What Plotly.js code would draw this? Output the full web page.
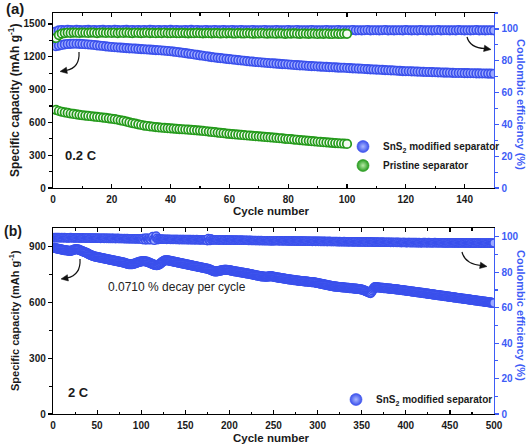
<!DOCTYPE html>
<html>
<head>
<meta charset="utf-8">
<script src="https://cdn.plot.ly/plotly-3.0.1.min.js"></script>
<style>html,body{margin:0;padding:0;background:#fff;}#chart{width:530px;height:446px;}</style>
</head>
<body>
<div id="chart"></div>
<script>
// ---------- DATA ----------
// (a) 0.2 C, cycles 1..150 (SnS2) and 1..100 (pristine)
const capSnS2_a = [
1296,1302,1308,1313,1316,1318,1319,1319,1318,1316,
1314,1312,1310,1307,1304,1301,1298,1295,1292,1289,
1287,1285,1283,1281,1279,1277,1276,1274,1272,1270,
1268,1266,1265,1263,1261,1259,1257,1255,1253,1250,
1247,1244,1240,1237,1233,1229,1225,1221,1217,1213,
1209,1205,1201,1197,1193,1190,1187,1184,1181,1178,
1175,1172,1169,1166,1163,1160,1157,1155,1152,1150,
1147,1145,1143,1141,1139,1137,1135,1133,1131,1129,
1127,1125,1123,1121,1120,1118,1116,1114,1113,1111,
1110,1108,1107,1105,1104,1103,1101,1100,1099,1097,
1096,1094,1093,1091,1090,1088,1087,1085,1084,1082,
1081,1080,1078,1077,1075,1074,1072,1071,1069,1068,
1067,1066,1065,1064,1063,1062,1061,1060,1059,1058,
1057,1056,1055,1055,1054,1053,1052,1052,1051,1050,
1050,1049,1049,1048,1048,1047,1047,1046,1046,1045];
const ceSnS2_a = [
98.4,99.1,99.3,99.2,99.4,99.3,99.2,99.4,99.3,99.2,
99.3,99.4,99.2,99.3,99.1,99.3,99.4,99.2,99.3,99.2,
99.4,99.3,99.2,99.3,99.4,99.2,99.3,99.1,99.3,99.2,
99.3,99.2,99.4,99.3,99.2,99.3,99.1,99.3,99.2,99.4,
99.2,99.3,99.2,99.1,99.3,99.2,99.4,99.2,99.3,99.1,
99.2,99.3,99.1,99.2,99.3,99.2,99.1,99.3,99.2,99.2,
99.3,99.1,99.2,99.3,99.2,99.1,99.2,99.3,99.1,99.2,
99.2,99.3,99.1,99.2,99.1,99.3,99.2,99.1,99.2,99.3,
99.1,99.2,99.3,99.1,99.2,99.2,99.1,99.3,99.2,99.1,
99.2,99.1,99.3,99.2,99.1,99.2,99.3,99.1,99.2,99.1,
99.2,99.3,99.1,99.2,99.1,99.2,99.3,99.1,99.2,99.2,
99.1,99.2,99.3,99.1,99.2,99.1,99.2,99.2,99.1,99.3,
99.2,99.1,99.2,99.1,99.3,99.2,99.1,99.2,99.1,99.2,
99.3,99.1,99.2,99.2,99.1,99.2,99.1,99.3,99.2,99.1,
99.2,99.1,99.2,99.3,99.1,99.2,99.1,99.2,99.2,99.1];
const capPristine_a = [
714,704,697,691,686,681,677,673,669,665,
662,659,656,653,650,647,644,641,637,633,
629,624,619,613,607,600,594,588,582,576,
571,567,563,560,557,554,551,549,547,545,
543,541,539,537,535,533,531,529,527,525,
522,519,516,513,510,507,504,501,498,495,
493,490,488,485,483,480,478,476,474,472,
469,467,465,462,460,458,455,453,450,448,
446,443,441,438,436,433,431,428,426,423,
421,419,417,415,413,411,409,407,405,403];
const cePristine_a = [
94.3,96.1,97.0,97.4,97.6,97.5,97.7,97.6,97.5,97.7,
97.6,97.5,97.7,97.6,97.4,97.6,97.7,97.5,97.6,97.5,
97.6,97.4,97.6,97.5,97.7,97.5,97.4,97.6,97.5,97.4,
97.5,97.6,97.4,97.5,97.3,97.5,97.4,97.6,97.4,97.3,
97.5,97.4,97.3,97.5,97.4,97.2,97.4,97.3,97.5,97.3,
97.2,97.4,97.3,97.2,97.4,97.3,97.1,97.3,97.2,97.4,
97.2,97.1,97.3,97.2,97.1,97.3,97.2,97.0,97.2,97.1,
97.3,97.1,97.0,97.2,97.1,97.0,97.2,97.1,96.9,97.1,
97.0,97.2,97.0,96.9,97.1,97.0,96.9,97.1,97.0,96.8,
97.0,96.9,97.1,96.9,96.8,97.0,96.9,96.8,97.0,96.9];

// (b) 2 C, cycles 1..500 (SnS2)
const capSnS2_b = [
895,893,891,890,889,888,887,886,885,884,
883,882,881,880,880,879,878,878,877,877,
878,880,882,884,885,886,886,885,884,882,
880,878,876,874,872,870,868,866,864,861,
858,856,854,852,850,848,847,846,845,844,
843,842,841,840,839,838,837,836,835,834,
833,832,831,830,829,828,827,826,825,824,
823,822,821,820,819,818,817,816,815,814,
813,811,809,808,807,806,806,805,805,806,
807,808,809,811,813,815,816,818,819,820,
821,822,822,821,820,819,818,816,814,812,
810,808,806,804,802,801,800,800,801,803,
806,810,814,818,821,824,826,827,827,826,
825,824,823,822,821,820,819,818,817,816,
815,814,813,812,811,810,809,808,807,806,
805,804,803,802,801,800,799,798,797,796,
795,794,793,792,791,790,789,788,787,786,
785,784,783,782,781,780,778,776,774,772,
770,768,767,766,766,767,768,769,770,771,
772,773,774,775,775,775,775,774,774,773,
772,771,770,769,768,767,766,766,765,764,
763,762,761,761,760,759,758,757,756,756,
755,754,753,752,751,750,749,748,747,746,
745,744,743,742,741,740,740,739,739,738,
738,738,738,739,740,740,741,740,739,738,
737,736,735,734,733,733,732,731,730,730,
729,728,727,727,726,725,724,724,723,722,
722,721,720,720,719,718,718,717,716,716,
715,715,714,714,713,713,712,712,711,711,
710,710,709,709,708,708,707,706,705,704,
703,702,701,700,699,698,697,696,695,694,
693,692,691,690,689,688,687,686,686,685,
685,684,684,683,683,682,682,681,681,680,
680,679,679,678,678,677,677,676,676,675,
675,674,674,673,673,672,672,671,670,669,
668,666,664,662,660,658,656,654,652,650,
656,664,672,678,682,682,681,681,680,680,
679,679,678,678,677,677,676,676,675,675,
674,674,673,673,672,672,671,671,670,670,
669,668,668,667,667,666,665,665,664,663,
663,662,661,661,660,659,659,658,657,657,
656,655,655,654,653,653,652,651,651,650,
649,649,648,647,647,646,645,645,644,643,
643,642,641,641,640,639,639,638,637,637,
636,635,635,634,633,633,632,631,631,630,
629,629,628,627,627,626,625,625,624,623,
623,622,621,621,620,619,619,618,617,617,
616,615,615,614,613,613,612,611,611,610,
609,609,608,607,607,606,605,605,604,603,
603,602,601,601,600,599,599,598,597,597];
const ceSnS2_b = [
99.6,99.5,99.7,99.5,99.6,99.4,99.6,99.5,99.5,99.6,
99.4,99.5,99.6,99.4,99.5,99.5,99.3,99.5,99.4,99.6,
99.5,99.4,99.4,99.5,99.3,99.5,99.4,99.4,99.5,99.3,
99.4,99.3,99.5,99.4,99.3,99.4,99.2,99.4,99.3,99.4,
99.3,99.2,99.4,99.3,99.3,99.2,99.4,99.3,99.2,99.3,
99.2,99.3,99.2,99.1,99.3,99.2,99.2,99.1,99.3,99.2,
99.1,99.2,99.1,99.2,99.0,99.2,99.1,99.1,99.2,99.0,
99.1,99.0,99.2,99.1,99.0,99.1,99.0,99.1,99.0,99.0,
99.1,98.9,99.0,99.1,98.9,99.0,98.9,99.0,98.9,99.0,
98.9,98.9,99.0,98.8,98.9,99.0,98.8,98.9,98.9,98.8,
98.9,98.4,99.2,98.9,98.2,99.4,98.8,98.3,99.3,98.7,
98.3,99.5,100.2,98.6,98.0,99.9,100.5,99.2,98.4,98.8,
98.6,98.7,98.8,98.7,98.6,98.7,98.6,98.7,98.5,98.6,
98.7,98.6,98.5,98.6,98.5,98.6,98.5,98.6,98.5,98.5,
98.5,98.6,98.4,98.5,98.6,98.4,98.5,98.5,98.4,98.6,
98.4,98.5,98.4,98.5,98.3,98.5,98.4,98.4,98.5,98.3,
98.4,98.3,98.5,98.4,98.3,98.4,98.2,98.4,98.3,98.4,
98.3,98.2,98.4,98.3,97.8,99.1,98.1,97.9,98.9,98.3,
98.3,98.2,98.3,98.2,98.4,98.2,98.3,98.1,98.3,98.2,
98.2,98.3,98.1,98.2,98.3,98.1,98.2,98.2,98.1,98.3,
98.1,98.2,98.1,98.2,98.0,98.2,98.1,98.1,98.2,98.0,
98.1,98.0,98.2,98.1,98.0,98.1,98.0,98.1,98.0,98.0,
98.1,97.9,98.0,98.1,97.9,98.0,97.9,98.0,97.9,98.0,
97.9,97.9,98.0,97.8,97.9,98.0,97.8,97.9,97.9,97.8,
97.9,97.8,97.9,97.8,97.8,97.9,97.7,97.8,97.9,97.7,
97.9,97.8,97.9,97.8,97.9,97.8,97.7,97.9,97.8,97.8,
97.7,97.8,97.9,97.7,97.8,97.7,97.8,97.7,97.6,97.8,
97.7,97.6,97.8,97.7,97.6,97.7,97.6,97.7,97.6,97.7,
97.6,97.7,97.5,97.6,97.7,97.5,97.6,97.6,97.5,97.6,
97.5,97.6,97.5,97.4,97.6,97.5,97.5,97.4,97.6,97.5,
97.4,97.5,97.4,97.5,97.3,97.5,97.4,97.4,97.5,97.3,
97.4,97.3,97.5,97.4,97.3,97.4,97.3,97.4,97.3,97.4,
97.3,97.4,97.2,97.3,97.4,97.2,97.3,97.3,97.2,97.4,
97.2,97.3,97.2,97.3,97.1,97.3,97.2,97.2,97.3,97.1,
97.2,97.1,97.3,97.2,97.1,97.2,97.1,97.2,97.1,97.2,
97.1,97.2,97.0,97.1,97.2,97.0,97.1,97.1,97.0,97.2,
97.0,97.1,97.0,97.1,96.9,97.1,97.0,97.0,97.1,96.9,
97.0,96.9,97.1,97.0,96.9,97.0,96.9,97.0,96.9,97.0,
96.9,97.0,96.8,96.9,97.0,96.8,96.9,96.9,96.8,97.0,
96.8,96.9,96.8,96.9,96.7,96.9,96.8,96.8,96.9,96.7,
96.8,96.7,96.9,96.8,96.7,96.8,96.7,96.8,96.7,96.8,
96.7,96.8,96.6,96.7,96.8,96.6,96.7,96.7,96.6,96.8,
96.7,96.8,96.6,96.7,96.6,96.8,96.7,96.6,96.7,96.6,
96.7,96.6,96.8,96.7,96.6,96.7,96.6,96.7,96.6,96.7,
96.6,96.7,96.5,96.6,96.7,96.5,96.6,96.6,96.5,96.7,
96.6,96.7,96.5,96.6,96.5,96.7,96.6,96.5,96.6,96.5,
96.6,96.5,96.7,96.6,96.5,96.6,96.5,96.6,96.5,96.6,
96.5,96.6,96.4,96.5,96.6,96.4,96.5,96.5,96.4,96.6,
96.5,96.6,96.4,96.5,96.4,96.6,96.5,96.4,96.5,96.4,
96.5,96.4,96.6,96.5,96.4,96.5,96.4,96.5,96.4,96.5];

const legendNames = ['SnS<sub>2</sub> modified separator', 'Pristine separator'];
const rateLabels = ['0.2 C', '2 C'];
const decayText = '0.0710 % decay per cycle';

// ---------- STYLE ----------
const BLUE = '#3a50ec', BLUE_FILL = '#9eabff', BLUE_AX = '#3d5cf6';
const GREEN = '#249a1b', GREEN_FILL = '#f4fbf2';
const FONT = 'Liberation Sans, Arial, Helvetica, sans-serif';
const cycles = n => Array.from({length: n}, (_, i) => i + 1);

// ring-like marker: light fill, coloured outline (overlapping gives the "((((" look)
function ring(color, fill, size, lw) {
  return {color: fill, size: size, symbol: 'circle', line: {color: color, width: lw}};
}
// shaded ball for legend
function ball(color, center, size) {
  return {color: color, size: size, symbol: 'circle',
          gradient: {type: 'radial', color: center}, line: {color: color, width: 0.6}};
}
function tr(y, xa, ya, marker) {
  return {type: 'scatter', mode: 'markers', x: cycles(y.length), y: y,
          xaxis: xa, yaxis: ya, marker: marker, showlegend: false, hoverinfo: 'skip'};
}

const data = [
  tr(capSnS2_a, 'x', 'y', ring(BLUE, BLUE_FILL, 8.5, 1.6)),
  tr(ceSnS2_a, 'x', 'y2', ring(BLUE, BLUE_FILL, 8.5, 1.6)),
  tr(capPristine_a, 'x', 'y', ring(GREEN, GREEN_FILL, 8.5, 1.7)),
  tr(cePristine_a, 'x', 'y2', ring(GREEN, GREEN_FILL, 8.5, 1.7)),
  tr(capSnS2_b, 'x2', 'y3', ring(BLUE, BLUE_FILL, 8.5, 1.6)),
  tr(ceSnS2_b, 'x2', 'y4', ring(BLUE, BLUE_FILL, 8, 1.4)),
  // legend entries
  {type:'scatter', mode:'markers', x:[null], y:[null], xaxis:'x', yaxis:'y',
   marker: ball(BLUE, '#aab8ff', 12), name: legendNames[0], legend:'legend', showlegend:true},
  {type:'scatter', mode:'markers', x:[null], y:[null], xaxis:'x', yaxis:'y',
   marker: ball(GREEN, '#b8eaa8', 12), name: legendNames[1], legend:'legend', showlegend:true},
  {type:'scatter', mode:'markers', x:[null], y:[null], xaxis:'x2', yaxis:'y3',
   marker: ball(BLUE, '#aab8ff', 12), name: legendNames[0], legend:'legend2', showlegend:true}
];

const tickFont = {family: FONT, size: 10, weight: 'bold', color: '#1a1a1a'};
const tickFontB = {family: FONT, size: 10, weight: 'bold', color: BLUE_AX};

function xAx(range, dtick, minor, anchor) {
  return {domain: [0, 1], anchor: anchor, range: range, dtick: dtick, tick0: 0,
    ticks: 'inside', ticklen: 4, tickwidth: 1.2, tickcolor: '#000',
    minor: {dtick: minor, ticks: 'inside', ticklen: 2.5, tickwidth: 1.1, tickcolor: '#000', showgrid: false},
    showline: true, linecolor: '#000', linewidth: 1.2, mirror: 'ticks',
    showgrid: false, zeroline: false, tickfont: tickFont, ticklabelstandoff: 2};
}
function yLeft(domain, range, dtick, minor, anchor) {
  return {domain: domain, anchor: anchor, range: range, dtick: dtick, tick0: 0,
    ticks: 'outside', ticklen: 4, tickwidth: 1.2, tickcolor: '#000',
    minor: {dtick: minor, ticks: 'outside', ticklen: 2.5, tickwidth: 1.1, tickcolor: '#000', showgrid: false},
    showline: true, linecolor: '#000', linewidth: 1.2,
    showgrid: false, zeroline: false, tickfont: tickFont};
}
function yRight(over, range, anchor) {
  return {overlaying: over, side: 'right', anchor: anchor, range: range, dtick: 20, tick0: 0,
    ticks: 'outside', ticklen: 4, tickwidth: 1.2, tickcolor: BLUE_AX,
    minor: {dtick: 10, ticks: 'outside', ticklen: 2.5, tickwidth: 1.1, tickcolor: BLUE_AX, showgrid: false},
    showline: true, linecolor: BLUE_AX, linewidth: 1.4,
    showgrid: false, zeroline: false, tickfont: tickFontB};
}

// pixel -> paper helpers for decorations
const L = 53, R = 494, T = 13, B = 414;
const PX = x => (x - L) / (R - L);
const PY = y => (B - y) / (B - T);
function curve(x0, y0, cx, cy, x1, y1) {
  return {type: 'path', xref: 'paper', yref: 'paper',
    path: `M ${PX(x0)},${PY(y0)} Q ${PX(cx)},${PY(cy)} ${PX(x1)},${PY(y1)}`,
    line: {color: '#111', width: 1.2}, fillcolor: 'rgba(0,0,0,0)'};
}
function head(tx, ty, dx, dy) {
  const n = Math.hypot(dx, dy); dx /= n; dy /= n;
  const Ln = 7, W = 3.2;
  const bx = tx - Ln * dx, by = ty - Ln * dy;
  const p1 = [bx - W * dy, by + W * dx], p2 = [bx + W * dy, by - W * dx];
  return {type: 'path', xref: 'paper', yref: 'paper',
    path: `M ${PX(tx)},${PY(ty)} L ${PX(p1[0])},${PY(p1[1])} L ${PX(p2[0])},${PY(p2[1])} Z`,
    line: {color: '#111', width: 0.5}, fillcolor: '#111'};
}

function ann(text, x, y, size, opts) {
  return Object.assign({text: text, xref: 'paper', yref: 'paper', x: PX(x), y: PY(y),
    showarrow: false, xanchor: 'center', yanchor: 'middle',
    font: {family: FONT, size: size, weight: 'bold', color: '#1a1a1a'}}, opts || {});
}

const layout = {
  width: 530, height: 446,
  margin: {l: L, r: 530 - R, t: T, b: 446 - B, pad: 0},
  paper_bgcolor: '#fff', plot_bgcolor: '#fff',
  xaxis: xAx([0, 150], 20, 10, 'y'),
  yaxis: yLeft([(B - 188) / (B - T), 1], [0, 1600], 300, 150, 'x'),
  yaxis2: yRight('y', [0, 110], 'x'),
  xaxis2: xAx([0, 500], 50, 25, 'y3'),
  yaxis3: yLeft([0, (B - 228) / (B - T)], [0, 1000], 300, 150, 'x2'),
  yaxis4: yRight('y3', [0, 105], 'x2'),
  legend: {x: PX(343), y: PY(132), xanchor: 'left', yanchor: 'top',
    bgcolor: 'rgba(0,0,0,0)', borderwidth: 0, tracegroupgap: 0,
    font: {family: FONT, size: 10, weight: 'bold', color: '#1a1a1a'}},
  legend2: {x: PX(336), y: PY(385), xanchor: 'left', yanchor: 'top',
    bgcolor: 'rgba(0,0,0,0)', borderwidth: 0,
    font: {family: FONT, size: 10, weight: 'bold', color: '#1a1a1a'}},
  annotations: [
    ann('(a)', 15, 8, 15),
    ann('(b)', 13, 231, 14),
    ann('Specific capacity (mAh g<sup>-1</sup>)', 14, 100, 12, {textangle: -90}),
    ann('Specific capacity (mAh g<sup>-1</sup>)', 14, 321, 11, {textangle: -90}),
    ann('Coulombic efficiency (%)', 521, 104, 11, {textangle: 90, font: {family: FONT, size: 11, weight: 'bold', color: BLUE_AX}}),
    ann('Coulombic efficiency (%)', 521, 315, 11, {textangle: 90, font: {family: FONT, size: 11, weight: 'bold', color: BLUE_AX}}),
    ann('Cycle number', 271, 211, 11.5),
    ann('Cycle number', 271, 438, 11.5),
    ann(rateLabels[0], 81, 155, 13),
    ann(rateLabels[1], 78, 392, 13),
    ann(decayText, 177, 287, 12, {font: {family: FONT, size: 12, color: '#222'}})
  ],
  shapes: [
    curve(79, 52, 80, 68, 66, 70.5), head(60, 71.5, -1, 0.17),
    curve(467, 37, 470, 48, 485, 48.5), head(491, 49.5, 1, 0.17),
    curve(80, 259, 81, 275, 67, 278), head(61, 279, -1, 0.17),
    curve(462, 252, 465, 264, 481, 265.5), head(487, 266.5, 1, 0.17)
  ]
};

Plotly.newPlot('chart', data, layout, {displayModeBar: false, staticPlot: true});
</script>
</body>
</html>
